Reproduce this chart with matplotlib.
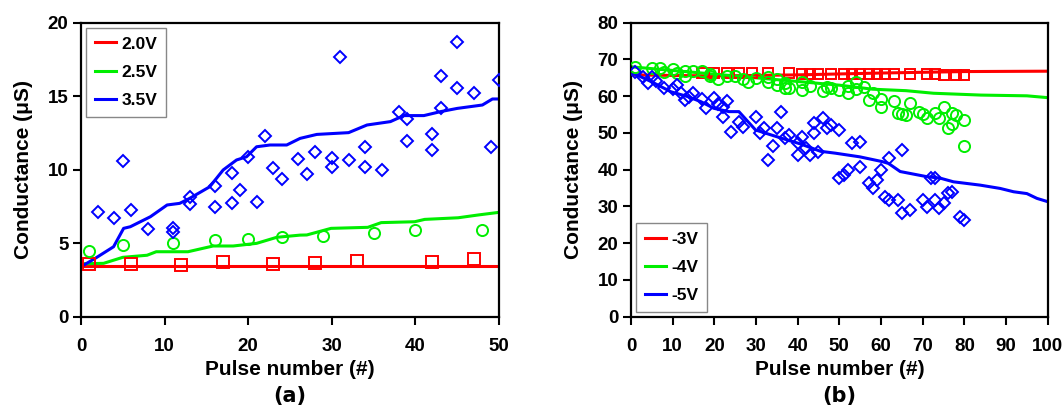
import matplotlib
matplotlib.use("Agg")
import matplotlib.pyplot as plt

plt.rcParams['font.family'] = ['Liberation Sans', 'DejaVu Sans']
plt.rcParams['font.weight'] = 'bold'

RED = '#FF0000'
GREEN = '#00EE00'
BLUE = '#0000FF'

# ---------------- panel (a) data ----------------
a_red_line_x = [0, 50]
a_red_line_y = [3.45, 3.45]
a_red_sq_x = [1, 6, 12, 17, 23, 28, 33, 42, 47]
a_red_sq_y = [3.6, 3.6, 3.55, 3.7, 3.6, 3.65, 3.8, 3.75, 3.9]

a_green_line_x = [0, 2.7, 5, 7.9, 9, 12.8, 15.8, 18.2, 21, 23.4, 26.2, 27, 29.9, 34.3, 35.9, 39.9, 41.1, 45.1, 47.5, 50]
a_green_line_y = [3.6, 3.63, 4.04, 4.18, 4.42, 4.42, 4.81, 4.81, 4.99, 5.4, 5.55, 5.56, 6.01, 6.08, 6.4, 6.46, 6.62, 6.73, 6.92, 7.1]
a_green_ci_x = [1, 5, 11, 16, 20, 24, 29, 35, 40, 48]
a_green_ci_y = [4.49, 4.88, 5.0, 5.22, 5.29, 5.42, 5.47, 5.67, 5.88, 5.88]

a_blue_line_x = [0, 1.7, 3.9, 5.1, 5.9, 8.3, 10.3, 11.8, 13, 15.4, 17, 18.6, 19.8, 21, 22.6, 24.6,
                 26.2, 28.2, 32, 34.2, 37, 38.6, 41, 43, 45, 48, 49.2, 50]
a_blue_line_y = [3.4, 3.97, 4.76, 6.01, 6.12, 6.8, 7.6, 7.71, 8.05, 8.84, 9.98, 10.66, 10.88, 11.56, 11.68, 11.68,
                 12.13, 12.4, 12.52, 13.04, 13.27, 13.68, 13.68, 13.95, 14.17, 14.4, 14.81, 14.81]
a_blue_di_x = [2, 4, 5, 6, 8, 11, 11, 13, 13, 16, 16, 18, 18, 19, 20, 21, 22, 23, 24, 26, 27,
               28, 30, 30, 31, 32, 34, 34, 36, 38, 39, 39, 42, 42, 43, 43, 45, 45, 47, 49, 50]
a_blue_di_y = [7.14, 6.74, 10.59, 7.26, 5.94, 6.06, 5.78, 8.12, 7.67, 8.91, 7.44, 9.75, 7.71, 8.62, 10.84, 7.78, 12.29, 10.14, 9.37, 10.73, 9.69,
               11.18, 10.82, 10.16, 17.64, 10.66, 11.56, 10.2, 9.98, 13.9, 13.43, 11.97, 12.43, 11.34, 16.37, 14.17, 18.71, 15.53, 15.19, 11.56, 16.1]

a_labels = ['2.0V', '2.5V', '3.5V']

# ---------------- panel (b) data ----------------
b_red_line_x = [0, 20, 40, 60, 80, 100]
b_red_line_y = [65.8, 65.5, 65.8, 66.3, 66.7, 66.8]
b_red_sq_x = [17, 20, 23, 26, 29, 33, 38, 41, 43, 45, 48, 51, 53, 55, 57, 59, 61, 63, 67, 71, 73, 75, 78, 80]
b_red_sq_y = [66.2, 66.2, 66.2, 66.2, 66.2, 66.2, 66.2, 66.1, 66.0, 66.0, 66.0, 66.0, 66.0, 66.0, 66.0, 66.0,
              66.0, 66.0, 66.0, 66.0, 66.0, 65.9, 65.8, 65.8]

b_green_line_x = [0, 5, 10, 20, 30, 40, 50, 58, 66, 72.6, 84, 95, 100]
b_green_line_y = [68.0, 67.5, 67.0, 66.0, 65.0, 64.0, 63.0, 61.9, 61.5, 60.8, 60.3, 60.1, 59.6]
b_green_ci_x = [1, 5, 7, 8, 10, 11, 13, 13, 15, 17, 19, 19, 21, 23, 25, 27, 28, 30, 33, 33,
                35, 35, 37, 37, 38, 41, 41, 43, 46, 47, 48, 50, 52, 52, 54, 54, 56, 57, 58, 60,
                60, 63, 64, 65, 66, 67, 69, 70, 71, 73, 74, 75, 76, 77, 77, 78, 80, 80]
b_green_ci_y = [68.0, 67.6, 67.6, 66.7, 67.4, 66.2, 66.9, 65.5, 66.9, 66.9, 66.0, 65.5, 64.8, 65.5, 65.5, 64.6, 63.9, 64.9, 65.1, 63.9,
                64.6, 63.0, 63.7, 62.1, 62.1, 63.9, 61.7, 62.9, 61.5, 62.4, 62.1, 61.7, 62.8, 60.8, 63.9, 61.9, 62.6, 59.0, 61.0, 59.2,
                57.0, 58.7, 55.3, 55.2, 54.8, 58.1, 55.6, 55.2, 54.0, 55.5, 54.0, 57.0, 51.3, 55.3, 52.4, 54.9, 53.5, 46.5]

b_blue_line_x = [0, 4.8, 9.6, 13.6, 16.8, 19.9, 23.5, 25.9, 29.9, 33.8, 37.5, 40.7, 45.5, 49.0, 54.9, 60.3,
                 61.8, 64.6, 71.0, 74.2, 77.4, 83.8, 88.6, 91.8, 95.0, 97.4, 100]
b_blue_line_y = [66.5, 64.0, 61.2, 59.9, 58.5, 56.7, 55.8, 55.8, 50.8, 49.4, 48.1, 47.0, 45.0, 44.5, 43.5, 42.2,
                 41.7, 39.5, 38.1, 37.7, 36.7, 35.8, 34.9, 34.0, 33.5, 32.2, 31.3]
b_blue_di_x = [1, 3, 4, 5, 6, 8, 10, 11, 12, 13, 14, 15, 17, 18, 20, 21, 22, 22, 23, 24, 26, 27,
               30, 31, 32, 33, 34, 35, 36, 37, 38, 40, 40,
               41, 42, 43, 44, 44, 45, 46, 47, 48, 50, 50, 51, 52, 53, 55, 55, 57, 58, 59, 60,
               61, 62, 62, 64, 65, 65, 67, 70, 71, 72, 73, 73, 74, 75, 76, 77, 79, 80]
b_blue_di_y = [66.7, 65.1, 63.5, 65.1, 64.0, 62.1, 61.9, 63.0, 60.8, 59.0, 59.7, 60.8, 59.2, 56.7, 59.4, 57.9, 54.4, 57.0, 58.8, 50.3, 53.1, 51.7,
               54.3, 50.1, 51.3, 42.6, 46.5, 51.3, 55.8, 48.5, 49.4, 47.2, 44.0,
               49.0, 45.8, 44.0, 52.6, 50.1, 44.9, 54.0, 51.4, 52.2, 50.8, 37.7, 38.6, 39.9, 47.2, 47.6, 40.8, 36.3, 34.9, 37.2, 39.9,
               32.7, 43.1, 31.8, 31.8, 45.4, 28.1, 29.0, 31.8, 29.9, 37.7, 37.7, 31.8, 29.5, 30.9, 33.6, 34.0, 27.2, 26.3]

b_labels = ['-3V', '-4V', '-5V']

# ---------------- figure ----------------
fig = plt.figure(figsize=(10.64, 4.05), dpi=100)
ax1 = fig.add_axes([0.0761, 0.218, 0.393, 0.726])
ax2 = fig.add_axes([0.593, 0.218, 0.3917, 0.726])

LW = 2.2
MEW = 1.4

def style(ax):
    for s in ax.spines.values():
        s.set_linewidth(1.6)
        s.set_color('black')
    ax.tick_params(axis='both', which='major', direction='out', length=6, width=1.5,
                   labelsize=13.5, top=False, right=False)
    ax.tick_params(axis='x', pad=9)
    ax.tick_params(axis='y', pad=3)
    for lab in ax.get_xticklabels() + ax.get_yticklabels():
        lab.set_fontweight('bold')
    ax.set_xlabel('Pulse number (#)', fontsize=15, fontweight='bold')
    ax.set_ylabel('Conductance (μS)', fontsize=15, fontweight='bold')

LEG_KW = dict(borderaxespad=0, fancybox=False, edgecolor='#888888', framealpha=1,
              handlelength=1.25, handletextpad=0.3, labelspacing=0.75,
              borderpad=0.5, prop={'weight': 'bold', 'size': 12.5})

# panel (a)
ax1.plot(a_red_line_x, a_red_line_y, color=RED, lw=LW, label=a_labels[0], zorder=2)
ax1.plot(a_green_line_x, a_green_line_y, color=GREEN, lw=LW, label=a_labels[1], zorder=2)
ax1.plot(a_blue_line_x, a_blue_line_y, color=BLUE, lw=LW, label=a_labels[2], zorder=2)
ax1.plot(a_red_sq_x, a_red_sq_y, ls='none', marker='s', ms=8.5, mfc='none', mec=RED, mew=MEW, zorder=3)
ax1.plot(a_green_ci_x, a_green_ci_y, ls='none', marker='o', ms=8, mfc='none', mec=GREEN, mew=MEW, zorder=3)
ax1.plot(a_blue_di_x, a_blue_di_y, ls='none', marker='D', ms=6.5, mfc='none', mec=BLUE, mew=MEW, zorder=3)
ax1.set_xlim(0, 50)
ax1.set_ylim(0, 20)
ax1.set_xticks([0, 10, 20, 30, 40, 50])
ax1.set_yticks([0, 5, 10, 15, 20])
style(ax1)
leg1 = ax1.legend(loc='upper left', bbox_to_anchor=(0.012, 0.983), **LEG_KW)
leg1.get_frame().set_linewidth(1.0)

# panel (b)
ax2.plot(b_red_line_x, b_red_line_y, color=RED, lw=LW, label=b_labels[0], zorder=2)
ax2.plot(b_green_line_x, b_green_line_y, color=GREEN, lw=LW, label=b_labels[1], zorder=2)
ax2.plot(b_blue_line_x, b_blue_line_y, color=BLUE, lw=LW, label=b_labels[2], zorder=2)
ax2.plot(b_red_sq_x, b_red_sq_y, ls='none', marker='s', ms=7.5, mfc='none', mec=RED, mew=MEW, zorder=3)
ax2.plot(b_green_ci_x, b_green_ci_y, ls='none', marker='o', ms=8, mfc='none', mec=GREEN, mew=MEW, zorder=3)
ax2.plot(b_blue_di_x, b_blue_di_y, ls='none', marker='D', ms=6.5, mfc='none', mec=BLUE, mew=MEW, zorder=3)
ax2.set_xlim(0, 100)
ax2.set_ylim(0, 80)
ax2.set_xticks(list(range(0, 101, 10)))
ax2.set_yticks(list(range(0, 81, 10)))
style(ax2)
leg2 = ax2.legend(loc='lower left', bbox_to_anchor=(0.012, 0.016), **LEG_KW)
leg2.get_frame().set_linewidth(1.0)

for ax in (ax1, ax2):
    ax.yaxis.set_label_coords(-0.115, 0.5)
    ax.xaxis.set_label_coords(0.5, -0.18)
    ax.xaxis.label.set_va('center')

fig.text(0.0761 + 0.393 / 2, 0.022, '(a)', ha='center', va='center', fontsize=15,
         fontweight='bold', family='DejaVu Sans')
fig.text(0.593 + 0.3917 / 2, 0.022, '(b)', ha='center', va='center', fontsize=15,
         fontweight='bold', family='DejaVu Sans')

fig.savefig('out.png', dpi=100)
